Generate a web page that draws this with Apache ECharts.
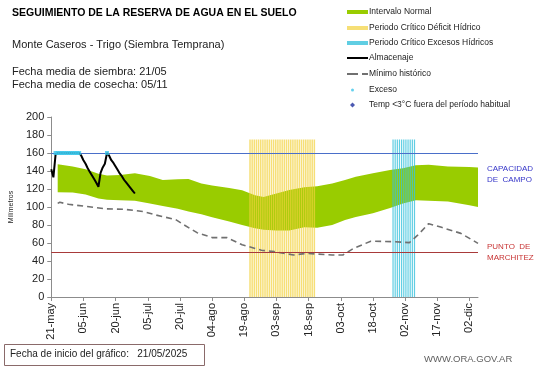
<!DOCTYPE html>
<html><head><meta charset="utf-8">
<script src="https://cdn.jsdelivr.net/npm/echarts@6/dist/echarts.min.js"></script>
<style>html,body{margin:0;padding:0;background:#fff}#c{width:541px;height:368px}</style>
</head><body><div id="c"></div>
<script>
// x values are days counted from the chart start date 21/05/2025
var startDate = [2025, 4, 21];
var xTickDays = [0,15,30,45,60,75,90,105,120,135,150,165,180,195];
var monthNames = ['ene','feb','mar','abr','may','jun','jul','ago','sep','oct','nov','dic'];

// Intervalo Normal (band)
var bandDays  = [3,10,16,22,26,32,39,46,52,59,64,70,75,83,89,95,99,105,111,118,124,131,137,142,150,158,164,170,176,185,195,199];
var bandUpper = [147.5,145,142,137,135,135.5,137.5,134.5,130,130.7,131,126,124,121,118.5,113,111,115,119,122,123,126,130,133.5,137.5,141,143,146.5,147,145,144.5,144];
var bandLower = [116.5,116,114,109.5,108,107.5,107,104,101,98,95,92,88.5,84,80,76.5,74.8,74,74,77.5,77,80,85.6,89,93,99,104,107.5,107,106,102,100];

// Almacenaje
var almDays = [0,1,2,3,4,5,6,7,8,9,10,11,12,13,14,15,16,17,18,19,20,21,22,23,24,25,26,27,28,29,30,31,32,33,34,35,36,37,38,39];
var almVals = [142,133,158,160,160,160,160,160,160,160,160,160,160,160,157,152,148,143,139,135,131,127,122.5,138,144,148,160,157,152,149,145,141,137,134,130,127,124,121,118,115];

// Mínimo histórico
var minDays = [3,4,8,15,25,34,43,49,58,62,68,75,82,89,98,104,113,119,131,136,141,149,159,167,171,176,182,191,199];
var minVals = [104,105.2,103,101,98,97.4,95,91,86,80,71.5,66,66,58,52,50.4,46.7,48.5,46.7,46.7,54,62,61.5,60.4,69,81.5,77.4,70.7,59.6];

// Exceso
var excesoDays = [2,3,4,5,6,7,8,9,10,11,12,13,26];
var excesoVals = [160,160,160,160,160,160,160,160,160,160,160,160,160];

// Periodo Crítico Déficit Hídrico / Excesos Hídricos (bars)
var deficitDays = [93,94,95,96,97,98,99,100,101,102,103,104,105,106,107,108,109,110,111,112,113,114,115,116,117,118,119,120,121,122,123];
var excesoPerDays = [159,160,161,162,163,164,165,166,167,168,169];
var periodHeight = 175;

var capacidadCampo = 160;
var puntoMarchitez = 50;

function pairs(xs, ys){ return xs.map(function(x,i){ return [x, ys[i]]; }); }
function fill(xs, v){ return xs.map(function(x){ return [x, v]; }); }
function dayLabel(d){
  var t = new Date(Date.UTC(startDate[0], startDate[1], startDate[2]) + d*86400000);
  var dd = t.getUTCDate();
  return (dd<10?'0':'') + dd + '-' + monthNames[t.getUTCMonth()];
}
var FONT = 'Liberation Sans, Arial, sans-serif';

var chart = echarts.init(document.getElementById('c'));

function leg(item, top, left, w, h, pad){
  var ts = {fontSize:8.5, color:'#222', fontFamily:FONT, lineHeight:10};
  if (pad) ts.padding = [0,0,0,pad];
  return {data:[item], top: top, left: left, orient:'vertical', padding:0,
    itemWidth:w, itemHeight:h, selectedMode:false, textStyle:ts};
}

chart.setOption({
  animation:false,
  backgroundColor:'#fff',
  grid:{left:33, right:63, top:117, bottom:71},
  legend:[
    leg({name:'Intervalo Normal', icon:'rect'}, 7, 347, 21, 4, -4),
    leg({name:'Periodo Crítico Déficit Hídrico', icon:'rect'}, 23, 347, 21, 4, -4),
    leg({name:'Periodo Crítico Excesos Hídricos', icon:'rect'}, 38, 347, 21, 4, -4),
    leg({name:'Almacenaje', icon:'rect'}, 53, 347, 21, 2, -4),
    leg({name:'Mínimo histórico', icon:'path://M0,0H11V2H0Z M15,0H21V2H15Z'}, 69, 347, 21, 2, -4),
    leg({name:'Exceso', icon:'circle'}, 85, 351, 3, 3, 10),
    leg({name:'Temp <3°C fuera del período habitual', icon:'diamond'}, 100, 350, 5, 5, 9)
  ],
  xAxis:{type:'value', min:0, max:199,
    axisLine:{lineStyle:{color:'#8c8c8c'}},
    axisTick:{show:true, length:4, customValues:xTickDays, lineStyle:{color:'#8c8c8c'}},
    axisLabel:{rotate:90, fontSize:11, color:'#222', fontFamily:FONT, margin:6, customValues:xTickDays,
      formatter:function(v){ return dayLabel(v); }},
    splitLine:{show:false}},
  yAxis:{type:'value', min:0, max:200, interval:20,
    name:'Milímetros', nameLocation:'middle', nameGap:25,
    nameTextStyle:{fontSize:7, color:'#222', fontFamily:FONT},
    axisLine:{show:true, lineStyle:{color:'#8c8c8c'}},
    axisTick:{show:true, length:4, lineStyle:{color:'#8c8c8c'}},
    axisLabel:{fontSize:11, color:'#222', fontFamily:FONT, margin:7},
    splitLine:{show:false}},
  series:[
    {name:'Intervalo Normal', type:'custom', data:[[bandDays[0], bandLower[0]]], z:1,
      itemStyle:{color:'#99CC00'},
      renderItem:function(params, api){
        var pts = [];
        for (var i=0;i<bandDays.length;i++) pts.push(api.coord([bandDays[i], bandUpper[i]]));
        for (var j=bandDays.length-1;j>=0;j--) pts.push(api.coord([bandDays[j], bandLower[j]]));
        return {type:'polygon', shape:{points:pts}, style:{fill:'#99CC00'}};
      }},
    {name:'Periodo Crítico Déficit Hídrico', type:'bar', data:fill(deficitDays, periodHeight), barWidth:1.5,
      itemStyle:{color:'#F2D23C', opacity:0.7}, z:2},
    {name:'Periodo Crítico Excesos Hídricos', type:'bar', data:fill(excesoPerDays, periodHeight), barWidth:1.2,
      itemStyle:{color:'#38C2DC', opacity:0.8}, z:2},
    {name:'lines', type:'line', data:[], symbol:'none', z:3,
      markLine:{silent:true, symbol:'none', label:{show:false},
        data:[{yAxis:capacidadCampo, lineStyle:{color:'#4A6FC9', width:1, type:'solid'}},
              {yAxis:puntoMarchitez, lineStyle:{color:'#A83A3A', width:1, type:'solid'}}]}},
    {name:'Mínimo histórico', type:'line', data:pairs(minDays, minVals), symbol:'none',
      lineStyle:{color:'#707070', width:1.6, type:[6,4]}, itemStyle:{color:'#707070'}, z:4},
    {name:'Almacenaje', type:'line', data:pairs(almDays, almVals), symbol:'none',
      lineStyle:{color:'#000', width:2}, itemStyle:{color:'#000'}, z:5},
    {name:'Exceso', type:'scatter', data:pairs(excesoDays, excesoVals), symbol:'rect', symbolSize:[4,4],
      itemStyle:{color:'#3CC6EA'}, z:6},
    {name:'Temp <3°C fuera del período habitual', type:'scatter', data:[], symbol:'diamond',
      itemStyle:{color:'#1F2F9F'}, z:6}
  ],
  graphic:[
    {type:'text', left:12, top:8, style:{text:'SEGUIMIENTO DE LA RESERVA DE AGUA EN EL SUELO', font:'bold 10.5px '+FONT, fill:'#000'}},
    {type:'text', left:12, top:39, style:{text:'Monte Caseros - Trigo (Siembra Temprana)', font:'11px '+FONT, fill:'#222'}},
    {type:'text', left:12, top:66, style:{text:'Fecha media de siembra: 21/05', font:'11px '+FONT, fill:'#222'}},
    {type:'text', left:12, top:79, style:{text:'Fecha media de cosecha: 05/11', font:'11px '+FONT, fill:'#222'}},
    {type:'text', left:487, top:163, style:{text:'CAPACIDAD\nDE  CAMPO', font:'8px '+FONT, fill:'#3535C8', lineHeight:11}},
    {type:'text', left:487, top:241, style:{text:'PUNTO  DE\nMARCHITEZ', font:'8px '+FONT, fill:'#C83535', lineHeight:11}},
    {type:'rect', shape:{x:4.5, y:344.5, width:200, height:21}, style:{fill:'none', stroke:'#8a6a6a', lineWidth:1}},
    {type:'text', left:10, top:349, style:{text:'Fecha de inicio del gráfico:   21/05/2025', font:'10px '+FONT, fill:'#222'}},
    {type:'text', left:424, top:354, style:{text:'WWW.ORA.GOV.AR', font:'9.5px '+FONT, fill:'#606060'}}
  ]
});
</script></body></html>
